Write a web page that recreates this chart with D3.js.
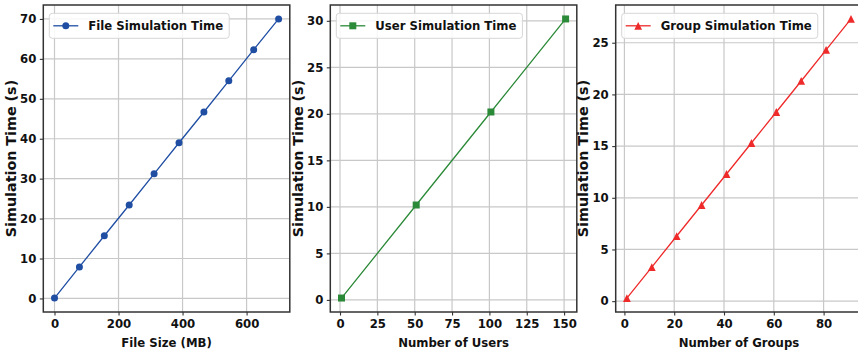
<!DOCTYPE html>
<html>
<head>
<meta charset="utf-8">
<script src="https://cdn.jsdelivr.net/npm/d3@7"></script>
<style>
  html, body { margin: 0; padding: 0; background: #fff; }
  svg { display: block; }
  text { font-family: "DejaVu Sans", sans-serif; font-weight: bold; fill: #111; }
</style>
</head>
<body>
<svg id="chart" width="858" height="357"></svg>
<script>
// File size sweep
const fileSizes = [0, 77.8, 155.6, 233.3, 311.1, 388.9, 466.7, 544.4, 622.2, 700];
const fileTimes = [0.1, 7.9, 15.7, 23.4, 31.2, 39.0, 46.7, 54.5, 62.3, 70.0];
const fileXTicks = [0, 200, 400, 600];
const fileYTicks = [0, 10, 20, 30, 40, 50, 60, 70];

// User count sweep
const userCounts = [1, 51, 101, 151];
const userTimes = [0.2, 10.2, 20.2, 30.2];
const userXTicks = [0, 25, 50, 75, 100, 125, 150];
const userYTicks = [0, 5, 10, 15, 20, 25, 30];

// Group count sweep
const groupCounts = [1, 11, 21, 31, 41, 51, 61, 71, 81, 91];
const groupTimes = [0.3, 3.3, 6.3, 9.3, 12.3, 15.3, 18.3, 21.3, 24.3, 27.3];
const groupXTicks = [0, 20, 40, 60, 80];
const groupYTicks = [0, 5, 10, 15, 20, 25];

const panels = [
  { left: 43.3, x: fileSizes, y: fileTimes, xTicks: fileXTicks, yTicks: fileYTicks,
    xLabel: "File Size (MB)", legend: "File Simulation Time", color: "#1f4ea3", marker: "circle" },
  { left: 330.3, x: userCounts, y: userTimes, xTicks: userXTicks, yTicks: userYTicks,
    xLabel: "Number of Users", legend: "User Simulation Time", color: "#2b8a38", marker: "square" },
  { left: 615.7, x: groupCounts, y: groupTimes, xTicks: groupXTicks, yTicks: groupYTicks,
    xLabel: "Number of Groups", legend: "Group Simulation Time", color: "#ee2a2a", marker: "triangle" }
];

const plotW = 246.5, plotTop = 5, plotBottom = 312;
const fontSize = 11.7;
const yLabelSize = 14.3;
const svg = d3.select("#chart");

function padded(vals) {
  const [lo, hi] = d3.extent(vals);
  const m = (hi - lo) * 0.05;
  return [lo - m, hi + m];
}

function markerPath(kind) {
  if (kind === "circle") {
    const r = 3.5;
    return `M${-r},0A${r},${r} 0 1,0 ${r},0A${r},${r} 0 1,0 ${-r},0Z`;
  }
  if (kind === "square") {
    const h = 3.5;
    return `M${-h},${-h}H${h}V${h}H${-h}Z`;
  }
  const r = 3.9;
  return `M0,${-r}L${r},${r}L${-r},${r}Z`;
}

panels.forEach(p => {
  const g = svg.append("g");
  const x = d3.scaleLinear().domain(padded(p.x)).range([p.left, p.left + plotW]);
  const y = d3.scaleLinear().domain(padded(p.y)).range([plotBottom, plotTop]);

  const clipId = "clip" + Math.round(p.left);
  svg.append("clipPath").attr("id", clipId)
    .append("rect").attr("x", p.left).attr("y", plotTop).attr("width", plotW).attr("height", plotBottom - plotTop);

  // grid
  const grid = g.append("g").attr("clip-path", `url(#${clipId})`);
  grid.selectAll(".gx").data(p.xTicks).join("line")
    .attr("x1", d => x(d)).attr("x2", d => x(d)).attr("y1", plotTop).attr("y2", plotBottom)
    .attr("stroke", "#c8c8c8").attr("stroke-width", 1.2);
  grid.selectAll(".gy").data(p.yTicks).join("line")
    .attr("x1", p.left).attr("x2", p.left + plotW).attr("y1", d => y(d)).attr("y2", d => y(d))
    .attr("stroke", "#c8c8c8").attr("stroke-width", 1.2);

  // axes
  const xAxis = g.append("g").attr("transform", `translate(0,${plotBottom})`)
    .call(d3.axisBottom(x).tickValues(p.xTicks).tickSize(3.5).tickPadding(4).tickFormat(d3.format("d")));
  const yAxis = g.append("g").attr("transform", `translate(${p.left},0)`)
    .call(d3.axisLeft(y).tickValues(p.yTicks).tickSize(3.5).tickPadding(3.5).tickFormat(d3.format("d")));
  [xAxis, yAxis].forEach(a => {
    a.select(".domain").remove();
    a.selectAll(".tick line").attr("stroke", "#333").attr("stroke-width", 1.1);
    a.selectAll(".tick text").attr("font-size", fontSize).attr("font-family", "DejaVu Sans").attr("font-weight", "bold").attr("fill", "#111");
  });

  // series
  const data = p.x.map((v, i) => [v, p.y[i]]);
  const plot = g.append("g").attr("clip-path", `url(#${clipId})`);
  plot.append("path").datum(data)
    .attr("d", d3.line().x(d => x(d[0])).y(d => y(d[1])))
    .attr("fill", "none").attr("stroke", p.color).attr("stroke-width", 1.3);
  g.selectAll(".mk").data(data).join("path")
    .attr("transform", d => `translate(${x(d[0])},${y(d[1])})`)
    .attr("d", markerPath(p.marker)).attr("fill", p.color);

  // spines
  g.append("rect").attr("x", p.left).attr("y", plotTop).attr("width", plotW).attr("height", plotBottom - plotTop)
    .attr("fill", "none").attr("stroke", "#333").attr("stroke-width", 1.5);

  // axis labels
  g.append("text").attr("x", p.left + plotW / 2).attr("y", 347)
    .attr("text-anchor", "middle").attr("font-size", fontSize).text(p.xLabel);
  g.append("text")
    .attr("transform", `translate(${p.left - 27.5},${(plotTop + plotBottom) / 2}) rotate(-90)`)
    .attr("text-anchor", "middle").attr("font-size", yLabelSize).text("Simulation Time (s)");

  // legend
  const lx = p.left + 6, ly = plotTop + 8.3;
  const lg = g.append("g");
  const box = lg.append("rect").attr("x", lx).attr("y", ly).attr("height", 25).attr("rx", 3)
    .attr("fill", "rgba(255,255,255,0.85)").attr("stroke", "#d6d6d6").attr("stroke-width", 1);
  lg.append("line").attr("x1", lx + 4).attr("x2", lx + 29).attr("y1", ly + 12.5).attr("y2", ly + 12.5)
    .attr("stroke", p.color).attr("stroke-width", 1.3);
  lg.append("path").attr("transform", `translate(${lx + 16.5},${ly + 12.5})`)
    .attr("d", markerPath(p.marker)).attr("fill", p.color);
  const t = lg.append("text").attr("x", lx + 39).attr("y", ly + 16.8)
    .attr("font-size", fontSize).text(p.legend);
  const tw = t.node().getComputedTextLength();
  box.attr("width", 39 + tw + 6);
});
</script>
</body>
</html>
